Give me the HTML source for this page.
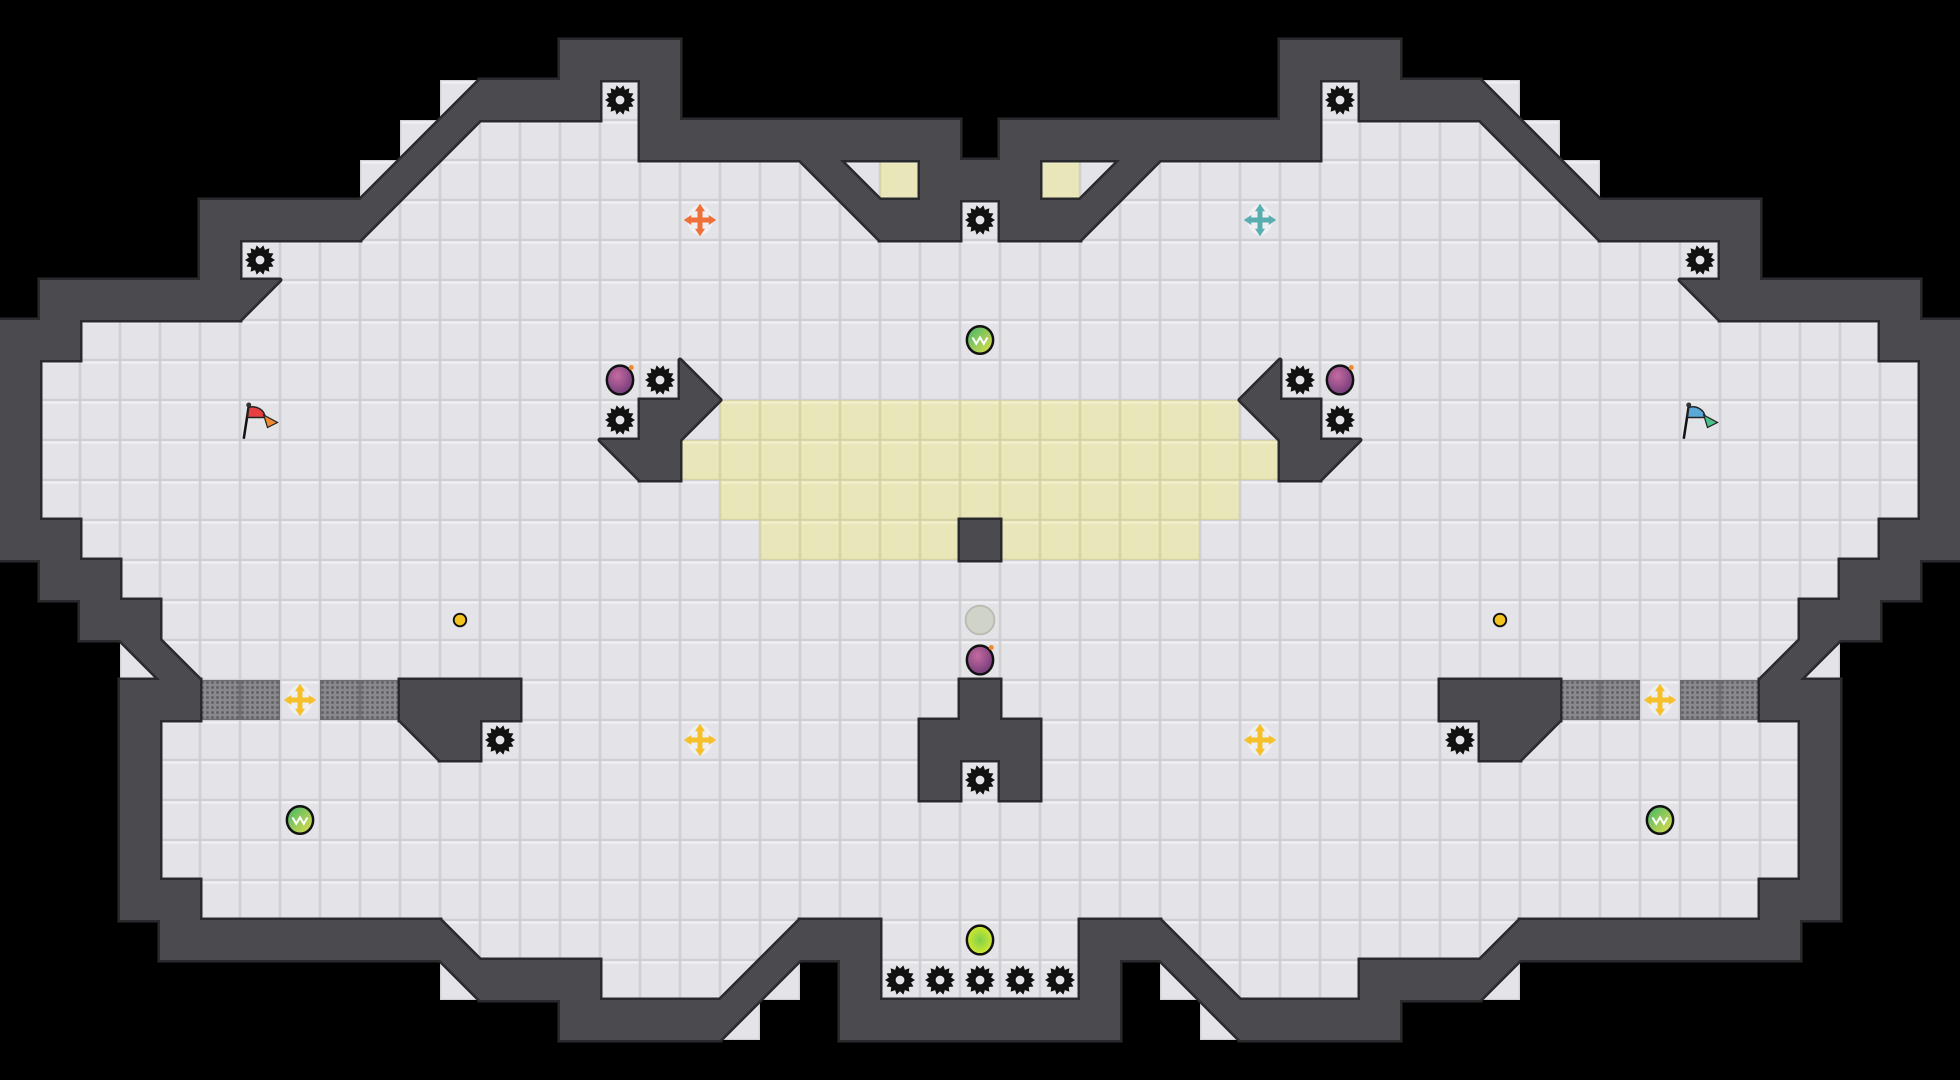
<!DOCTYPE html>
<html><head><meta charset="utf-8">
<style>html,body{margin:0;padding:0;background:#000;overflow:hidden}svg{display:block}</style>
</head><body>
<svg id="s" xmlns="http://www.w3.org/2000/svg" width="1960" height="1080" viewBox="0 0 1568 864">
<defs>
<radialGradient id="bomb" cx="40%" cy="35%" r="70%"><stop offset="0" stop-color="#c56aa0"/><stop offset="1" stop-color="#6e3a78"/></radialGradient>
<linearGradient id="grn" x1="0" y1="0" x2="1" y2="1"><stop offset="0" stop-color="#3fb36a"/><stop offset="1" stop-color="#e8e04a"/></linearGradient>
<radialGradient id="yg" cx="50%" cy="50%" r="60%"><stop offset="0" stop-color="#7fd04a"/><stop offset="1" stop-color="#e4ee2a"/></radialGradient>
<pattern id="grate" width="4" height="4" patternUnits="userSpaceOnUse"><rect width="4" height="4" fill="#8a8a8e"/><rect x="1" y="1" width="2" height="2" fill="#5e5e62"/></pattern>
</defs>
<g id="floor"></g><g id="wallS"></g><g id="wallF"></g><g id="items"></g>
</svg>
<script>
var L=[
"                         ",
"              ###        ",
"           d###.#        ",
"          dq....######## ",
"         dq.........pbY##",
"     ####q...........p##.",
"     #...................",
" #####q..................",
"##.......................",
"#................b.......",
"#...............#qYYYYYYY",
"#..............p#YYYYYYYY",
"#.................YYYYYYY",
"##.................YYYYY#",
" ##......................",
"  ##.....................",
"   pb....................",
"   ##GG.GG###...........#",
"   #......p#...........##",
"   #...................#.",
"   #.....................",
"   #.....................",
"   ##....................",
"    #######b.......d##...",
"           p###...dq #...",
"              ####q  ####",
"                         "];
var M={p:'q',q:'p',b:'d',d:'b'};
var G=L.map(function(r){var s=r;for(var i=23;i>=0;i--){var c=r[i];s+=(M[c]||c);}return s;});
var NS="http://www.w3.org/2000/svg";
function el(p,t,a){var e=document.createElementNS(NS,t);for(var k in a)e.setAttribute(k,a[k]);p.appendChild(e);return e;}
var fl=document.getElementById('floor'),ws=document.getElementById('wallS'),wf=document.getElementById('wallF'),it=document.getElementById('items');
var T=32,WC='#4a4a4f',WS='#2a2a2e';
function tri(c,x,y){var a=x,b=y,e=x+T,f=y+T;
 if(c=='q')return a+','+b+' '+e+','+b+' '+a+','+f;
 if(c=='p')return a+','+b+' '+e+','+b+' '+e+','+f;
 if(c=='b')return a+','+b+' '+a+','+f+' '+e+','+f;
 return e+','+b+' '+e+','+f+' '+a+','+f;}
for(var r=0;r<G.length;r++)for(var c=0;c<49;c++){var ch=G[r][c],x=c*T,y=r*T;
 if(ch==' ')continue;
 if(ch=='#'){el(ws,'rect',{x:x,y:y,width:T,height:T,fill:WC,stroke:WS,'stroke-width':4});el(wf,'rect',{x:x,y:y,width:T,height:T,fill:WC});continue;}
 if(ch=='G'){el(fl,'rect',{x:x,y:y,width:T,height:T,fill:'#6e6e72'});el(fl,'rect',{x:x+1,y:y+1,width:T-2,height:T-2,fill:'url(#grate)'});continue;}
 var Y=ch=='Y';
 el(fl,'rect',{x:x,y:y,width:T,height:T,fill:Y?'#d6d3a4':'#cfcfd4'});
 el(fl,'rect',{x:x+1,y:y+1,width:T-2,height:T-2,fill:Y?'#e9e7b9':'#e4e4e8'});
 el(fl,'rect',{x:x+1,y:y+1,width:T-2,height:2,fill:Y?'#f2f0cc':'#efeff2'});
 if('pqbd'.indexOf(ch)>=0){var pt=tri(ch,x,y);el(ws,'polygon',{points:pt,fill:WC,stroke:WS,'stroke-width':4,'stroke-linejoin':'round'});el(wf,'polygon',{points:pt,fill:WC});}
}
function gear(x,y){var p=[],n=14;for(var i=0;i<n*2;i++){var a=i*Math.PI/n,rr=i%2?9:12;p.push((x+rr*Math.cos(a)).toFixed(1)+','+(y+rr*Math.sin(a)).toFixed(1));}
 el(it,'polygon',{points:p.join(' '),fill:'#111'});el(it,'circle',{cx:x,cy:y,r:3.5,fill:'#e4e4e8'});}
[[496,80],[1072,80],[208,208],[1360,208],[784,176],[528,304],[496,336],[1040,304],[1072,336],[400,592],[1168,592],[784,624],[720,784],[752,784],[784,784],[816,784],[848,784]].forEach(function(g){gear(g[0],g[1]);});
function bomb(x,y){el(it,'ellipse',{cx:x,cy:y,rx:10.5,ry:11.5,fill:'url(#bomb)',stroke:'#111','stroke-width':2});el(it,'circle',{cx:x+9,cy:y-10,r:2,fill:'#f08a30'});}
[[496,304],[1072,304],[784,528]].forEach(function(b){bomb(b[0],b[1]);});
function gball(x,y){el(it,'ellipse',{cx:x,cy:y,rx:10.5,ry:11,fill:'url(#grn)',stroke:'#111','stroke-width':2});el(it,'path',{d:'M'+(x-6)+' '+(y-2)+' l3 5 l3 -5 l3 5 l3 -5',stroke:'#fff','stroke-width':1.6,fill:'none'});}
[[784,272],[240,656],[1328,656]].forEach(function(b){gball(b[0],b[1]);});
el(it,'ellipse',{cx:784,cy:752,rx:10.5,ry:11.5,fill:'url(#yg)',stroke:'#111','stroke-width':2});
el(it,'circle',{cx:784,cy:496,r:11.5,fill:'#cfd3c8',stroke:'#b8bcb2','stroke-width':1.5});
[[368,496],[1200,496]].forEach(function(d){el(it,'circle',{cx:d[0],cy:d[1],r:5,fill:'#f4c21e',stroke:'#111','stroke-width':1.5});});
function cross(x,y,col){el(it,'ellipse',{cx:x,cy:y,rx:10,ry:12,fill:'#f2f2f4',opacity:0.8});
 el(it,'path',{d:'M'+x+' '+(y-9)+'V'+(y+9)+'M'+(x-9)+' '+y+'H'+(x+9),stroke:col,'stroke-width':4});
 var a=[[x,y-13,x-4,y-7,x+4,y-7],[x,y+13,x-4,y+7,x+4,y+7],[x-13,y,x-7,y-4,x-7,y+4],[x+13,y,x+7,y-4,x+7,y+4]];
 a.forEach(function(t){el(it,'polygon',{points:t[0]+','+t[1]+' '+t[2]+','+t[3]+' '+t[4]+','+t[5],fill:col});});}
cross(560,176,'#f0703a');cross(1008,176,'#5aaeb0');
[[240,560],[560,592],[1008,592],[1328,560]].forEach(function(c){cross(c[0],c[1],'#f5c02a');});
function flag(x,y,c1,c2){el(it,'path',{d:'M'+(x-13)+' '+(y+15)+'L'+(x-9)+' '+(y-11),stroke:'#111','stroke-width':2,fill:'none'});
 el(it,'circle',{cx:x-9,cy:y-12,r:2,fill:'#333'});
 el(it,'path',{d:'M'+(x-9)+' '+(y-10)+'C'+(x-3)+' '+(y-12)+' '+(x+4)+' '+(y-8)+' '+(x+4)+' '+(y-2)+'L'+(x-10)+' '+(y-2)+'Z',fill:c1,stroke:'#222','stroke-width':1.2});
 el(it,'path',{d:'M'+(x+3)+' '+(y-4)+'L'+(x+14)+' '+(y+2)+'L'+(x+6)+' '+(y+6)+'Z',fill:c2,stroke:'#222','stroke-width':1});}
flag(208,336,'#e84040','#f08a30');flag(1360,336,'#5aa8d8','#4ac08a');
</script>
</body></html>
